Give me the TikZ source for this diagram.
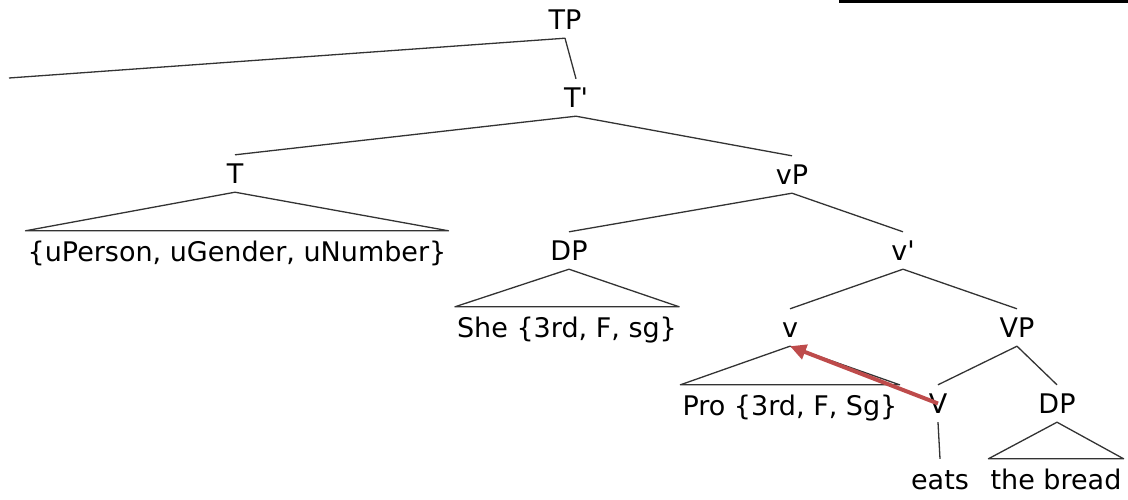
\documentclass[tikz,border=0pt]{standalone}
\usepackage{fontspec}
\setmainfont{DejaVu Sans}
\usetikzlibrary{arrows.meta}
\definecolor{mozgszin}{RGB}{190,75,75}
\tikzset{
  cat/.style={anchor=base,inner xsep=2pt,inner ysep=9pt,text height=19pt,text depth=0pt},
  leaf/.style={anchor=base,inner xsep=2pt,inner ysep=11pt,text height=19pt,text depth=0pt},
  ag/.style={draw=black!80,line width=1.3pt,line join=round},
  mozg/.style={draw=mozgszin,line width=4pt,-{Triangle[length=16pt,width=15pt]}},
}

\begin{document}
\begin{tikzpicture}[x=1pt,y=-1pt,font=\fontsize{27}{31}\selectfont]
  \useasboundingbox (0,0) rectangle (1128,499);
  \fill (839,0) rectangle (1128,3);
  % categories
  \node[cat] (TP) at (565,29) {TP};
  \node[cat] (Tb) at (576,107) {T\textquotesingle};
  \node[cat] (T) at (235,183) {T};
  \node[cat] (vP) at (792,184) {vP};
  \node[cat] (DP) at (569,260) {DP};
  \node[cat] (vb) at (903,260) {v\textquotesingle};
  \node[cat] (lv) at (790,337) {v};
  \node[cat] (VP) at (1017,337) {VP};
  \node[cat] (V) at (938,413) {V};
  \node[cat] (DPo) at (1057,413) {DP};
  \coordinate (bal) at (9,78);
  % leaves
  \node[leaf] (feat) at (237,261) {\{uPerson, uGender, uNumber\}};
  \node[leaf] (she) at (567,337) {She \{3rd, F, sg\}};
  \node[leaf] (pro) at (790,415) {Pro \{3rd, F, Sg\}};
  \node[leaf] (eats) at (940,489) {eats};
  \node[leaf] (bread) at (1056,489) {the bread};
  % branches
  \draw[ag] (bal) -- (TP.south) -- (Tb.north);
  \draw[ag] (T.north) -- (Tb.south) -- (vP.north);
  \draw[ag] (DP.north) -- (vP.south) -- (vb.north);
  \draw[ag] (lv.north) -- (vb.south) -- (VP.north);
  \draw[ag] (V.north) -- (VP.south) -- (DPo.north);
  \draw[ag] (V.south) -- (eats.north);
  % triangles
  \draw[ag] (T.south) -- (feat.north west) -- (feat.north east) -- cycle;
  \draw[ag] (DP.south) -- (she.north west) -- (she.north east) -- cycle;
  \draw[ag] (lv.south) -- (pro.north west) -- (pro.north east) -- cycle;
  \draw[ag] (DPo.south) -- (bread.north west) -- (bread.north east) -- cycle;
  % movement
  \draw[mozg] (V.center) -- (lv.south);
\end{tikzpicture}
\end{document}
